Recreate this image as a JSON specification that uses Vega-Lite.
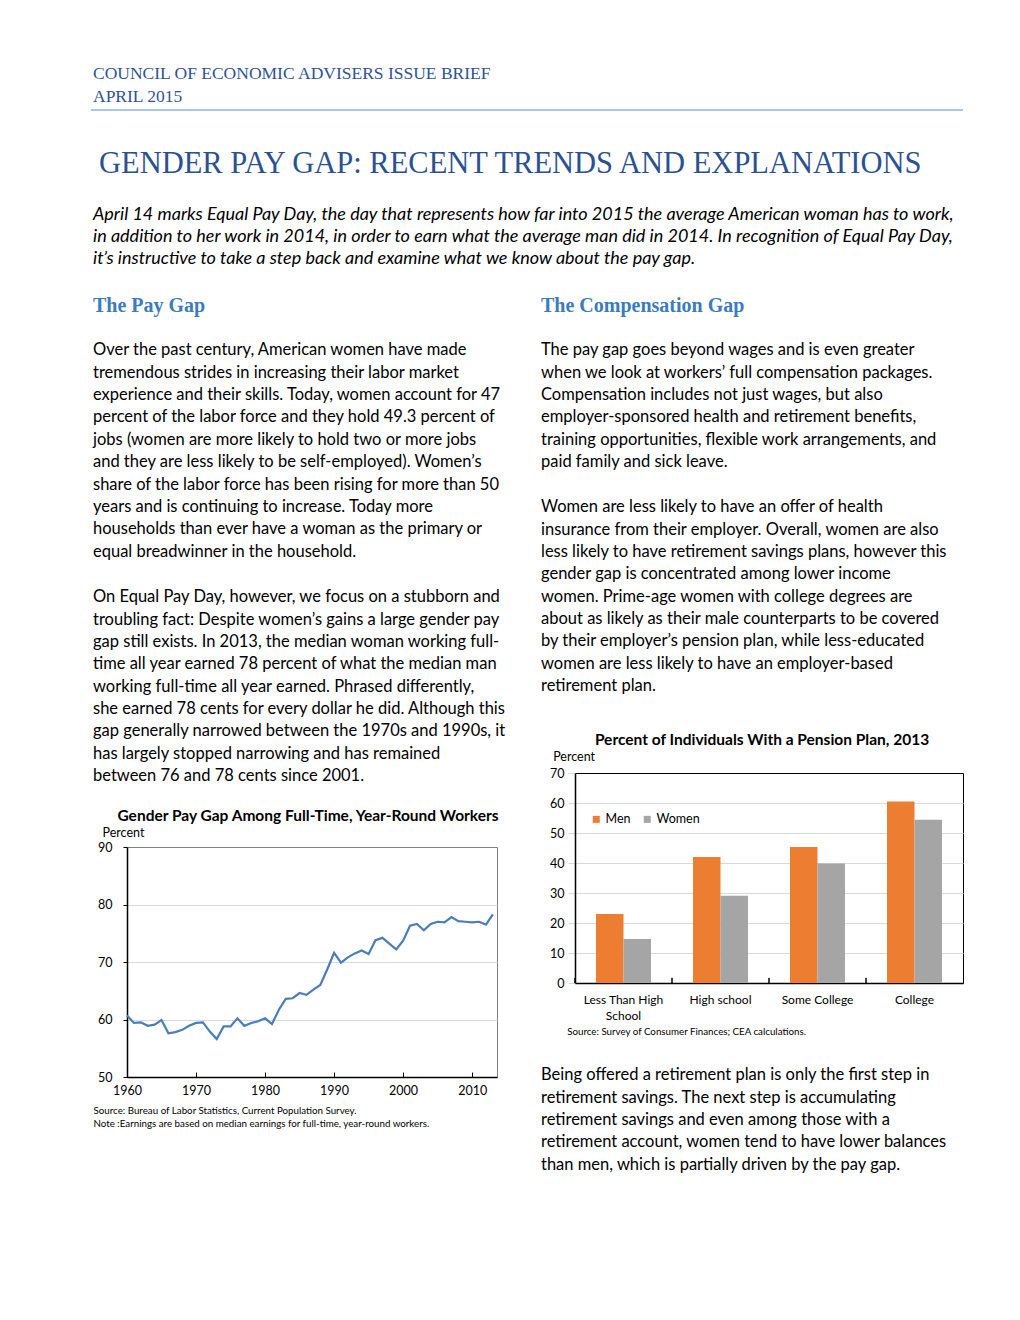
{
  "$schema": "https://vega.github.io/schema/vega-lite/v6.json",
  "background": "#ffffff",
  "padding": {"left": 90, "top": 65, "right": 10, "bottom": 10},
  "config": {
    "font": "Lato",
    "view": {"stroke": null},
    "axis": {"labelFont": "Lato", "titleFont": "Lato", "labelColor": "#000", "titleColor": "#000"},
    "legend": {"labelFont": "Lato", "labelColor": "#000"}
  },
  "spacing": 0,
  "resolve": {"scale": {"color": "independent"}, "legend": {"color": "independent"}},
  "vconcat": [
    {
      "width": 836,
      "height": 1,
      "view": {"stroke": null},
      "data": {"values": [{}]},
      "mark": {"type": "rule", "color": "#8EB4E3", "strokeWidth": 1.3},
      "encoding": {
        "x": {"datum": -36, "type": "quantitative", "scale": {"domain": [0, 836], "nice": false, "zero": false}, "axis": null},
        "x2": {"datum": 836},
        "y": {"datum": 1, "type": "quantitative", "scale": {"domain": [0, 1]}, "axis": null}
      },
      "title": {
        "text": ["COUNCIL OF ECONOMIC ADVISERS ISSUE BRIEF", "APRIL 2015"],
        "anchor": "start", "frame": "group", "font": "Liberation Serif", "fontSize": 17.5,
        "fontWeight": "normal", "color": "#2E5395", "lineHeight": 23, "offset": 3.5, "dx": -34
      }
    },
    {
      "width": 836,
      "height": 1,
      "view": {"stroke": null},
      "data": {"values": []},
      "mark": {"type": "point", "opacity": 0},
      "encoding": {},
      "title": {
        "text": "GENDER PAY GAP: RECENT TRENDS AND EXPLANATIONS",
        "orient": "bottom", "anchor": "start", "frame": "group", "font": "Liberation Serif", "fontSize": 30.5,
        "fontWeight": "normal", "color": "#2B5191", "dx": -28, "offset": 37
      }
    },
    {
      "width": 836,
      "height": 1,
      "view": {"stroke": null},
      "data": {"values": []},
      "mark": {"type": "point", "opacity": 0},
      "encoding": {},
      "title": {
        "text": [
          "April 14 marks Equal Pay Day, the day that represents how far into 2015 the average American woman has to work,",
          "in addition to her work in 2014, in order to earn what the average man did in 2014. In recognition of Equal Pay Day,",
          "it’s instructive to take a step back and examine what we know about the pay gap."
        ],
        "orient": "bottom", "anchor": "start", "frame": "group", "font": "Lato", "fontSize": 18, "fontStyle": "italic",
        "fontWeight": "normal", "color": "#000", "lineHeight": 22, "dx": -34, "offset": 24.5
      }
    },
    {
      "spacing": 29,
      "resolve": {"scale": {"color": "independent"}, "legend": {"color": "independent"}},
      "hconcat": [
        {
          "spacing": 0,
          "vconcat": [
            {
              "width": 384,
              "height": 1,
              "view": {"stroke": null},
              "data": {"values": []},
              "mark": {"type": "point", "opacity": 0},
              "encoding": {},
              "title": {
                "text": "The Pay Gap",
                "subtitle": [
                  "Over the past century, American women have made",
                  "tremendous strides in increasing their labor market",
                  "experience and their skills. Today, women account for 47",
                  "percent of the labor force and they hold 49.3 percent of",
                  "jobs (women are more likely to hold two or more jobs",
                  "and they are less likely to be self-employed). Women’s",
                  "share of the labor force has been rising for more than 50",
                  "years and is continuing to increase. Today more",
                  "households than ever have a woman as the primary or",
                  "equal breadwinner in the household."
                ],
                "orient": "bottom", "anchor": "start", "frame": "group", "font": "Liberation Serif", "fontSize": 20,
                "fontWeight": "bold", "color": "#3B7BBF", "offset": 27, "dx": -34,
                "subtitleFont": "Lato", "subtitleFontSize": 16.5, "subtitleColor": "#000",
                "subtitleLineHeight": 22.37, "subtitlePadding": 26.3
              }
            },
            {
              "width": 384,
              "height": 1,
              "view": {"stroke": null},
              "data": {"values": []},
              "mark": {"type": "point", "opacity": 0},
              "encoding": {},
              "title": {
                "text": [
                  "On Equal Pay Day, however, we focus on a stubborn and",
                  "troubling fact: Despite women’s gains a large gender pay",
                  "gap still exists. In 2013, the median woman working full-",
                  "time all year earned 78 percent of what the median man",
                  "working full-time all year earned. Phrased differently,",
                  "she earned 78 cents for every dollar he did. Although this",
                  "gap generally narrowed between the 1970s and 1990s, it",
                  "has largely stopped narrowing and has remained",
                  "between 76 and 78 cents since 2001."
                ],
                "orient": "bottom", "anchor": "start", "frame": "group", "font": "Lato", "fontSize": 16.5,
                "fontWeight": "normal", "color": "#000", "lineHeight": 22.37, "offset": 27.24, "dx": -34
              }
            },
            {
              "width": 1,
              "height": 22.2,
              "view": {"stroke": null},
              "data": {"values": []},
              "mark": {"type": "point", "opacity": 0},
              "encoding": {}
            },
            {
              "width": 370,
              "height": 230,
              "view": {"stroke": "#808080", "strokeWidth": 1},
              "title": {
                "text": "Gender Pay Gap Among Full-Time, Year-Round Workers",
                "anchor": "middle", "frame": "group", "font": "Lato", "fontSize": 15.5, "fontWeight": "bold",
                "color": "#000", "offset": 2, "dx": -4
              },
              "data": {
                "values": [
                  {"year": 1960, "pct": 60.7}, {"year": 1961, "pct": 59.4}, {"year": 1962, "pct": 59.5},
                  {"year": 1963, "pct": 58.9}, {"year": 1964, "pct": 59.1}, {"year": 1965, "pct": 59.9},
                  {"year": 1966, "pct": 57.6}, {"year": 1967, "pct": 57.8}, {"year": 1968, "pct": 58.2},
                  {"year": 1969, "pct": 58.9}, {"year": 1970, "pct": 59.4}, {"year": 1971, "pct": 59.5},
                  {"year": 1972, "pct": 57.9}, {"year": 1973, "pct": 56.6}, {"year": 1974, "pct": 58.8},
                  {"year": 1975, "pct": 58.8}, {"year": 1976, "pct": 60.2}, {"year": 1977, "pct": 58.9},
                  {"year": 1978, "pct": 59.4}, {"year": 1979, "pct": 59.7}, {"year": 1980, "pct": 60.2},
                  {"year": 1981, "pct": 59.2}, {"year": 1982, "pct": 61.7}, {"year": 1983, "pct": 63.6},
                  {"year": 1984, "pct": 63.7}, {"year": 1985, "pct": 64.6}, {"year": 1986, "pct": 64.3},
                  {"year": 1987, "pct": 65.2}, {"year": 1988, "pct": 66.0}, {"year": 1989, "pct": 68.7},
                  {"year": 1990, "pct": 71.6}, {"year": 1991, "pct": 69.9}, {"year": 1992, "pct": 70.8},
                  {"year": 1993, "pct": 71.5}, {"year": 1994, "pct": 72.0}, {"year": 1995, "pct": 71.4},
                  {"year": 1996, "pct": 73.8}, {"year": 1997, "pct": 74.2}, {"year": 1998, "pct": 73.2},
                  {"year": 1999, "pct": 72.2}, {"year": 2000, "pct": 73.7}, {"year": 2001, "pct": 76.3},
                  {"year": 2002, "pct": 76.6}, {"year": 2003, "pct": 75.5}, {"year": 2004, "pct": 76.6},
                  {"year": 2005, "pct": 77.0}, {"year": 2006, "pct": 76.9}, {"year": 2007, "pct": 77.8},
                  {"year": 2008, "pct": 77.1}, {"year": 2009, "pct": 77.0}, {"year": 2010, "pct": 76.9},
                  {"year": 2011, "pct": 77.0}, {"year": 2012, "pct": 76.5}, {"year": 2013, "pct": 78.3}
                ]
              },
              "mark": {"type": "line", "color": "#4A7EBB", "strokeWidth": 2.2},
              "encoding": {
                "x": {
                  "field": "year", "type": "quantitative",
                  "scale": {"domain": [1960, 2013.6], "nice": false, "zero": false},
                  "axis": {
                    "values": [1960, 1970, 1980, 1990, 2000, 2010], "format": "d", "grid": false,
                    "tickSize": -5, "tickColor": "#000", "domainColor": "#000", "domainWidth": 1.5, "labelFontSize": 12.5,
                    "labelPadding": 12, "labelFlush": false,
                    "title": ["Source: Bureau of Labor Statistics, Current Population Survey.", "Note :Earnings are based on median earnings for full-time, year-round workers."],
                    "titleX": -34, "titleY": 36.5, "titleAlign": "left", "titleAnchor": "start", "titleBaseline": "alphabetic",
                    "titleFontSize": 9.75, "titleFontWeight": "normal", "titleLineHeight": 13
                  }
                },
                "y": {
                  "field": "pct", "type": "quantitative",
                  "scale": {"domain": [50, 90], "nice": false, "zero": false},
                  "axis": {
                    "values": [50, 60, 70, 80, 90], "grid": true, "gridColor": "#D9D9D9",
                    "gridOpacity": {"condition": {"test": "datum.value === 90 || datum.value === 50", "value": 0}, "value": 1},
                    "tickSize": 4, "tickColor": "#000", "domainColor": "#000", "domainWidth": 1.5, "labelPadding": 11, "labelFontSize": 12.5,
                    "labelOverlap": false,
                    "title": "Percent", "titleAngle": 0, "titleX": -25, "titleY": -10.5, "titleAlign": "left",
                    "titleBaseline": "alphabetic", "titleFontSize": 12.5, "titleFontWeight": "normal", "minExtent": 36
                  }
                }
              }
            }
          ]
        },
        {
          "spacing": 0,
          "resolve": {"scale": {"color": "independent"}, "legend": {"color": "independent"}},
          "vconcat": [
            {
              "width": 388,
              "height": 1,
              "view": {"stroke": null},
              "data": {"values": []},
              "mark": {"type": "point", "opacity": 0},
              "encoding": {},
              "title": {
                "text": "The Compensation Gap",
                "subtitle": [
                  "The pay gap goes beyond wages and is even greater",
                  "when we look at workers’ full compensation packages.",
                  "Compensation includes not just wages, but also",
                  "employer-sponsored health and retirement benefits,",
                  "training opportunities, flexible work arrangements, and",
                  "paid family and sick leave."
                ],
                "orient": "bottom", "anchor": "start", "frame": "group", "font": "Liberation Serif", "fontSize": 20,
                "fontWeight": "bold", "color": "#3B7BBF", "offset": 27, "dx": -34,
                "subtitleFont": "Lato", "subtitleFontSize": 16.5, "subtitleColor": "#000",
                "subtitleLineHeight": 22.37, "subtitlePadding": 26.3
              }
            },
            {
              "width": 388,
              "height": 1,
              "view": {"stroke": null},
              "data": {"values": []},
              "mark": {"type": "point", "opacity": 0},
              "encoding": {},
              "title": {
                "text": [
                  "Women are less likely to have an offer of health",
                  "insurance from their employer. Overall, women are also",
                  "less likely to have retirement savings plans, however this",
                  "gender gap is concentrated among lower income",
                  "women. Prime-age women with college degrees are",
                  "about as likely as their male counterparts to be covered",
                  "by their employer’s pension plan, while less-educated",
                  "women are less likely to have an employer-based",
                  "retirement plan."
                ],
                "orient": "bottom", "anchor": "start", "frame": "group", "font": "Lato", "fontSize": 16.5,
                "fontWeight": "normal", "color": "#000", "lineHeight": 22.37, "offset": 27.24, "dx": -34
              }
            },
            {
              "width": 1,
              "height": 36.8,
              "view": {"stroke": null},
              "data": {"values": []},
              "mark": {"type": "point", "opacity": 0},
              "encoding": {}
            },
            {
              "width": 388,
              "height": 210,
              "view": {"stroke": "#000", "strokeWidth": 1},
              "title": {
                "text": "Percent of Individuals With a Pension Plan, 2013",
                "anchor": "middle", "frame": "group", "font": "Lato", "fontSize": 15.5, "fontWeight": "bold",
                "color": "#000", "offset": 2, "dx": -7
              },
              "data": {
                "values": [
                  {"level": "Less Than High School", "sex": "Men", "pct": 23.0},
                  {"level": "Less Than High School", "sex": "Women", "pct": 14.7},
                  {"level": "High school", "sex": "Men", "pct": 42.0},
                  {"level": "High school", "sex": "Women", "pct": 29.1},
                  {"level": "Some College", "sex": "Men", "pct": 45.3},
                  {"level": "Some College", "sex": "Women", "pct": 39.8},
                  {"level": "College", "sex": "Men", "pct": 60.5},
                  {"level": "College", "sex": "Women", "pct": 54.4}
                ]
              },
              "layer": [
                {
                  "mark": {"type": "bar"},
                  "encoding": {
                    "x": {
                      "field": "level", "type": "nominal", "sort": null,
                      "scale": {"paddingInner": 0, "paddingOuter": 0},
                      "axis": {
                        "labelAngle": 0, "ticks": false, "labelPadding": 11.5, "labelFontSize": 12,
                        "labelLineHeight": 16, "domainColor": "#000", "domainWidth": 1.5,
                        "labelExpr": "datum.label == 'Less Than High School' ? ['Less Than High', 'School'] : datum.label",
                        "title": "Source: Survey of Consumer Finances; CEA calculations.",
                        "titleX": -8.3, "titleY": 51, "titleAlign": "left", "titleAnchor": "start", "titleBaseline": "alphabetic",
                        "titleFontSize": 9.75, "titleFontWeight": "normal"
                      }
                    },
                    "xOffset": {"field": "sex", "type": "nominal", "scale": {"paddingOuter": 0.764, "paddingInner": 0}},
                    "y": {
                      "field": "pct", "type": "quantitative",
                      "scale": {"domain": [0, 70], "nice": false},
                      "axis": {
                        "values": [0, 10, 20, 30, 40, 50, 60, 70], "grid": true, "gridColor": "#D9D9D9",
                        "gridOpacity": {"condition": {"test": "datum.value === 70 || datum.value === 0", "value": 0}, "value": 1},
                        "tickSize": 7, "tickColor": "#D9D9D9", "domainColor": "#000", "domainWidth": 1.5, "labelPadding": 4, "labelFontSize": 12.5,
                        "labelOverlap": false,
                        "title": "Percent", "titleAngle": 0, "titleX": -22.3, "titleY": -12.1, "titleAlign": "left",
                        "titleBaseline": "alphabetic", "titleFontSize": 12.5, "titleFontWeight": "normal", "minExtent": 34
                      }
                    },
                    "color": {
                      "field": "sex", "type": "nominal",
                      "scale": {"domain": ["Men", "Women"], "range": ["#ED7D31", "#A5A5A5"]},
                      "legend": {
                        "orient": "none", "legendX": 15, "legendY": 40, "direction": "horizontal", "title": null,
                        "symbolType": "square", "symbolSize": 49, "symbolStrokeWidth": 0, "labelFontSize": 12.5,
                        "labelOffset": 3, "columnPadding": 10, "padding": 0
                      }
                    }
                  }
                },
                {
                  "mark": {"type": "rule", "color": "#000", "strokeWidth": 1},
                  "encoding": {
                    "x": {"field": "level", "type": "nominal", "sort": null, "bandPosition": 0},
                    "y": {
                      "datum": 0, "type": "quantitative",
                      "axis": {
                        "values": [0, 10, 20, 30, 40, 50, 60, 70], "grid": true, "gridColor": "#D9D9D9",
                        "gridOpacity": {"condition": {"test": "datum.value === 70 || datum.value === 0", "value": 0}, "value": 1},
                        "tickSize": 7, "tickColor": "#D9D9D9", "domainColor": "#000", "domainWidth": 1.5, "labelPadding": 4, "labelFontSize": 12.5,
                        "labelOverlap": false,
                        "title": "Percent", "titleAngle": 0, "titleX": -22.3, "titleY": -12.1, "titleAlign": "left",
                        "titleBaseline": "alphabetic", "titleFontSize": 12.5, "titleFontWeight": "normal", "minExtent": 34
                      }
                    },
                    "y2": {"datum": 1.7}
                  }
                }
              ]
            },
            {
              "width": 388,
              "height": 1,
              "view": {"stroke": null},
              "data": {"values": []},
              "mark": {"type": "point", "opacity": 0},
              "encoding": {},
              "title": {
                "text": [
                  "Being offered a retirement plan is only the first step in",
                  "retirement savings. The next step is accumulating",
                  "retirement savings and even among those with a",
                  "retirement account, women tend to have lower balances",
                  "than men, which is partially driven by the pay gap."
                ],
                "orient": "bottom", "anchor": "start", "frame": "group", "font": "Lato", "fontSize": 16.5,
                "fontWeight": "normal", "color": "#000", "lineHeight": 22.37, "offset": 29.25, "dx": -34
              }
            }
          ]
        }
      ]
    }
  ]
}
